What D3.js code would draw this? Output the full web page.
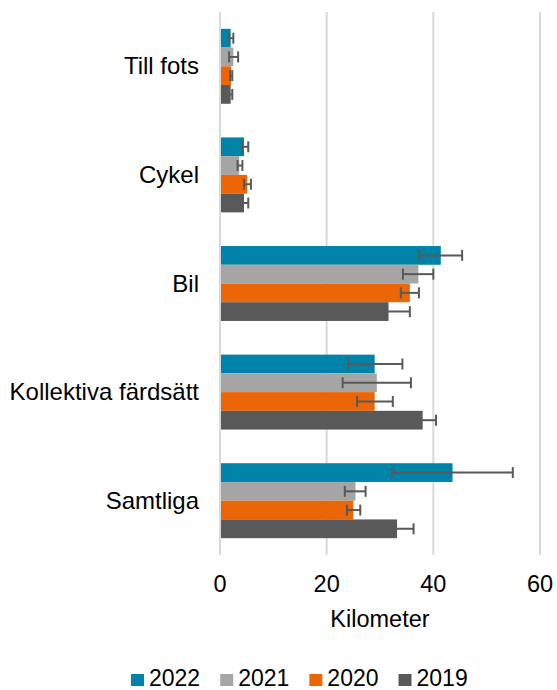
<!DOCTYPE html>
<html lang="sv">
  <head>
    <meta charset="utf-8" />
    <title>Kilometer per färdsätt</title>
    <script src="https://d3js.org/d3.v7.min.js"></script>
    <style type="text/css">
      body {
        margin: 0;
        background: #ffffff;
      }
      text {
        font-family: "Liberation Sans", Arial, sans-serif;
        fill: #000000;
      }
    </style>
  </head>
  <body>
    <script type="text/javascript">
      //Size of the page
      var w = 557;
      var h = 690;

      //Data
      var categories = ["Till fots", "Cykel", "Bil", "Kollektiva färdsätt", "Samtliga"];
      var years = ["2022", "2021", "2020", "2019"];
      var colors = ["#0083A9", "#A5A5A5", "#EC6608", "#595959"];

      var values2022 = [2.0, 4.5, 41.4, 29.0, 43.6];
      var low2022 = [1.7, 4.1, 37.4, 24.0, 32.3];
      var high2022 = [2.5, 5.3, 45.4, 34.2, 54.9];

      var values2021 = [2.5, 3.6, 37.2, 29.4, 25.4];
      var low2021 = [1.7, 3.3, 34.3, 23.0, 23.4];
      var high2021 = [3.4, 4.2, 40.0, 35.8, 27.3];

      var values2020 = [2.1, 5.1, 35.6, 29.0, 25.0];
      var low2020 = [1.9, 4.5, 33.9, 25.7, 23.8];
      var high2020 = [2.3, 5.8, 37.3, 32.4, 26.3];

      var values2019 = [2.0, 4.5, 31.6, 38.0, 33.2];
      var low2019 = [1.7, 3.7, 27.6, 35.5, 30.1];
      var high2019 = [2.3, 5.3, 35.6, 40.5, 36.3];

      var xTicks = [0, 20, 40, 60];

      var seriesValues = [values2022, values2021, values2020, values2019];
      var seriesLow = [low2022, low2021, low2020, low2019];
      var seriesHigh = [high2022, high2021, high2020, high2019];

      //Flatten into rows for the bars
      var rows = [];
      categories.forEach(function (c, ci) {
        years.forEach(function (y, yi) {
          rows.push({
            cat: c,
            year: y,
            color: colors[yi],
            value: seriesValues[yi][ci],
            low: seriesLow[yi][ci],
            high: seriesHigh[yi][ci],
          });
        });
      });

      //Plot area
      var plotLeft = 220;
      var plotRight = 540;
      var plotTop = 12;
      var plotBottom = 555;

      var xScale = d3.scaleLinear().domain([0, 60]).range([plotLeft, plotRight]);

      var yScale = d3
        .scaleBand()
        .domain(categories)
        .range([plotTop, plotBottom])
        .paddingInner(0.31)
        .paddingOuter(0.155);

      var yInner = d3
        .scaleBand()
        .domain(years)
        .range([0, yScale.bandwidth()]);

      var svg = d3
        .select("body")
        .append("svg")
        .attr("width", w)
        .attr("height", h);

      //Gridlines
      svg
        .append("g")
        .selectAll("line")
        .data(xTicks)
        .enter()
        .append("line")
        .attr("x1", function (d) {
          return xScale(d);
        })
        .attr("x2", function (d) {
          return xScale(d);
        })
        .attr("y1", plotTop)
        .attr("y2", plotBottom)
        .attr("stroke", "#D9D9D9")
        .attr("stroke-width", 2);

      //Bars
      svg
        .append("g")
        .selectAll("rect")
        .data(rows)
        .enter()
        .append("rect")
        .attr("x", xScale(0) + 1)
        .attr("y", function (d) {
          return yScale(d.cat) + yInner(d.year);
        })
        .attr("width", function (d) {
          return xScale(d.value) - xScale(0) - 1;
        })
        .attr("height", yInner.bandwidth())
        .attr("fill", function (d) {
          return d.color;
        });

      //Error bars
      var capH = 11;
      var err = svg
        .append("g")
        .attr("stroke", "#595959")
        .attr("stroke-width", 2)
        .selectAll("g")
        .data(rows)
        .enter()
        .append("g")
        .attr("transform", function (d) {
          return "translate(0," + (yScale(d.cat) + yInner(d.year) + yInner.bandwidth() / 2) + ")";
        });

      err
        .append("line")
        .attr("x1", function (d) {
          return xScale(d.low);
        })
        .attr("x2", function (d) {
          return xScale(d.high);
        });

      err
        .append("line")
        .attr("x1", function (d) {
          return xScale(d.low);
        })
        .attr("x2", function (d) {
          return xScale(d.low);
        })
        .attr("y1", -capH / 2)
        .attr("y2", capH / 2);

      err
        .append("line")
        .attr("x1", function (d) {
          return xScale(d.high);
        })
        .attr("x2", function (d) {
          return xScale(d.high);
        })
        .attr("y1", -capH / 2)
        .attr("y2", capH / 2);

      //Category labels
      svg
        .append("g")
        .selectAll("text")
        .data(categories)
        .enter()
        .append("text")
        .attr("x", 199)
        .attr("y", function (d) {
          return yScale(d) + yScale.bandwidth() / 2 + 8;
        })
        .attr("text-anchor", "end")
        .style("font-size", "24px")
        .text(function (d) {
          return d;
        });

      //X axis tick labels
      svg
        .append("g")
        .selectAll("text")
        .data(xTicks)
        .enter()
        .append("text")
        .attr("x", function (d) {
          return xScale(d);
        })
        .attr("y", 592)
        .attr("text-anchor", "middle")
        .style("font-size", "23.5px")
        .text(function (d) {
          return d;
        });

      svg
        .append("text")
        .attr("x", (plotLeft + plotRight) / 2)
        .attr("y", 627)
        .attr("text-anchor", "middle")
        .style("font-size", "23.5px")
        .text("Kilometer");

      //Legend
      var legend = svg.append("g");
      var lx = 131;
      years.forEach(function (y, i) {
        legend
          .append("rect")
          .attr("x", lx)
          .attr("y", 674)
          .attr("width", 13)
          .attr("height", 12)
          .attr("fill", colors[i]);
        var t = legend
          .append("text")
          .attr("x", lx + 18)
          .attr("y", 686)
          .style("font-size", "23px")
          .text(y);
        lx += 18 + t.node().getComputedTextLength() + 20;
      });
    </script>
  </body>
</html>
